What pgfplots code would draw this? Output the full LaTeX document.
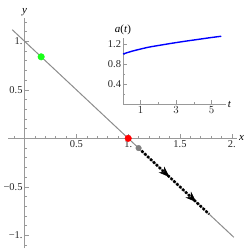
\documentclass[border=0pt]{standalone}
\usepackage{fontspec}
\setmainfont{Liberation Serif}
\usepackage{pgfplots}
\pgfplotsset{compat=1.18}
\usetikzlibrary{arrows.meta,decorations.markings}
\definecolor{axgray}{gray}{0.6}
\definecolor{lingray}{gray}{0.55}
\definecolor{mgreen}{rgb}{0.1,1,0.1}
\begin{document}
\begin{tikzpicture}[x=1bp,y=1bp]
\path[use as bounding box] (0,0) rectangle (250,249);
\begin{axis}[
  at={(8bp,1bp)}, anchor=south west,
  scale only axis, width=229bp, height=230bp,
  xmin=-0.16, xmax=2.05, ymin=-1.13, ymax=1.24,
  axis lines=middle,
  axis line style={axgray, line width=0.6bp, -},
  tick style={axgray, line width=0.5bp},
  major tick length=4bp, minor tick length=2.2bp,
  tick align=inside,
  xtick={0.5,1,1.5,2}, xticklabels={0.5,1.,1.5,2.},
  ytick={-1,-0.5,0.5,1}, yticklabels={−1.,−0.5,0.5,1.},
  minor xtick={-0.1,0.1,0.2,0.3,0.4,0.6,0.7,0.8,0.9,1.1,1.2,1.3,1.4,1.6,1.7,1.8,1.9},
  minor ytick={-1.1,-0.9,-0.8,-0.7,-0.6,-0.4,-0.3,-0.2,-0.1,0.1,0.2,0.3,0.4,0.6,0.7,0.8,0.9,1.1,1.2},
  ticklabel style={font=\fontsize{10.5}{11}\selectfont, text=black!85},
  xticklabel style={anchor=north, yshift=1.5bp},
  yticklabel style={anchor=east, xshift=1.5bp},
  clip=false,
]
\addplot[lingray, line width=1bp] coordinates {(-0.12,1.12) (2.02,-1.02)};
\addplot[black, line width=2.6bp, dash pattern=on 2.4bp off 1.6bp,
  postaction={solid, decorate},
  decoration={markings,
    mark=at position 0.44 with {\arrow{Stealth[length=11bp,width=8bp,fill=black,line width=0.5bp]}},
    mark=at position 0.82 with {\arrow{Stealth[length=11bp,width=8bp,fill=black,line width=0.5bp]}}}]
  coordinates {(1.1,-0.1) (1.78,-0.78)};
\addplot[only marks, mark=*, mark size=3.3bp, color=mgreen] coordinates {(0.16,0.84)};
\addplot[only marks, mark=*, mark size=3.3bp, color=red] coordinates {(1,0)};
\addplot[only marks, mark=*, mark size=2.8bp, color=gray] coordinates {(1.1,-0.1)};
\node[anchor=west, font=\fontsize{11}{12}\selectfont\itshape, inner sep=1bp] at (axis cs:2.06,0) {x};
\node[anchor=south, font=\fontsize{11}{12}\selectfont\itshape, inner sep=1bp] at (axis cs:0,1.25) {y};
\end{axis}
\begin{axis}[
  at={(123bp,145bp)}, anchor=south west,
  scale only axis, width=102.7bp, height=65.5bp,
  xmin=0, xmax=5.8, ymin=0, ymax=1.31,
  axis lines=left,
  axis line style={axgray, line width=0.6bp, -},
  tick style={axgray, line width=0.5bp},
  major tick length=3.5bp, minor tick length=2bp,
  tick align=inside,
  xtick={1,3,5}, minor xtick={2,4},
  ytick={0.4,0.8,1.2}, yticklabels={0.4,0.8,1.2}, minor ytick={0.2,0.6,1.0},
  ticklabel style={font=\fontsize{10.5}{11}\selectfont, text=black!85},
  xticklabel style={anchor=north, yshift=1.5bp},
  yticklabel style={anchor=east, xshift=1.5bp},
  clip=false,
]
\addplot[blue, line width=1.4bp, smooth] coordinates {
 (0,1.0) (0.5,1.055) (1,1.10) (1.5,1.14) (2,1.17) (2.5,1.20) (3,1.228)
 (3.5,1.255) (4,1.28) (4.5,1.305) (5,1.33) (5.55,1.355)};
\node[anchor=west, font=\fontsize{11}{12}\selectfont\itshape, inner sep=1bp] at (axis cs:5.85,0) {t};
\node[anchor=south, font=\fontsize{11}{12}\selectfont, inner sep=1bp] at (axis cs:0,1.36) {\textit{a}(\textit{t})};
\end{axis}
\end{tikzpicture}
\end{document}
